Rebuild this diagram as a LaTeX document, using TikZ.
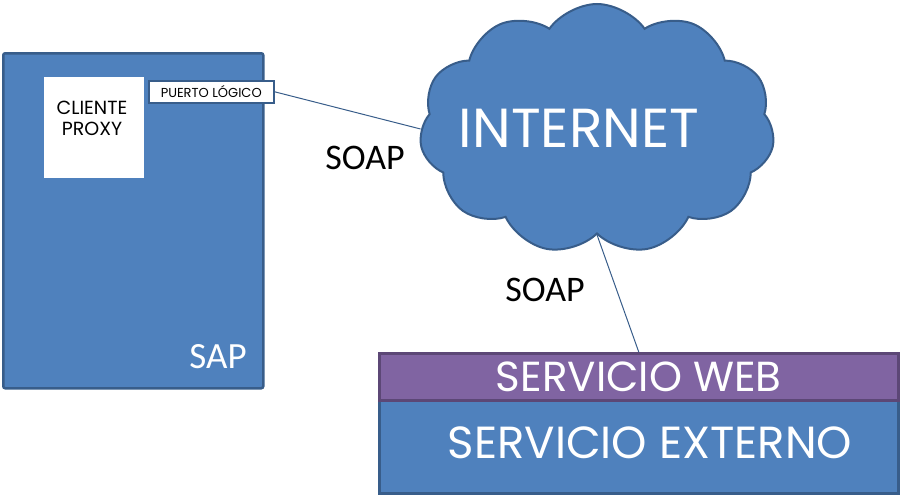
\documentclass[tikz,border=0pt]{standalone}
\usepackage{fontspec}
\setmainfont{Poppins}
\newfontfamily\calib{Carlito}
\usetikzlibrary{shapes.symbols,positioning}
\definecolor{sapblue}{HTML}{4F81BD}
\definecolor{sapedge}{HTML}{385D8A}
\definecolor{webviolet}{HTML}{8064A2}
\definecolor{webedge}{HTML}{5C4776}

\begin{document}
\begin{tikzpicture}[x=1pt,y=-1pt,
panel/.style={draw=sapedge,fill=sapblue,line width=2.5pt,inner sep=0pt,anchor=north west},
whitebox/.style={fill=white,inner sep=0pt,anchor=north west},
link/.style={draw=sapedge,line width=1pt},
tag/.style={font=\calib\fontsize{36}{40}\selectfont,text=black}]
\useasboundingbox (0,0) rectangle (900,501);
% SAP system with the proxy
\node[panel,rounded corners=2pt,minimum width=260pt,minimum height=335pt] (sap) at (2,52) {};
\node[text=white,font=\calib\fontsize{37}{40}\selectfont] (saplbl) at (218,357) {SAP};
\node[whitebox,minimum width=100pt,minimum height=101pt] (proxy) at (44,77) {};
\node[align=center,font=\fontsize{19}{21}\selectfont] (proxylbl) at (92,118) {CLIENTE\\PROXY};
\node[whitebox,draw=sapedge,line width=1.5pt,minimum width=125pt,minimum height=22pt,
  font=\fontsize{13}{14}\selectfont] (port) at (148,80) {PUERTO LÓGICO};
% internet
\node[cloud,draw=sapedge,fill=sapblue,line width=2pt,cloud puffs=11,cloud puff arc=110,
  aspect=1.4,minimum width=355pt,minimum height=250pt,inner sep=0pt] (cloud) at (597,129) {};
\node[text=white,font=\fontsize{55}{60}\selectfont] (netlbl) at (579,128) {INTERNET};
% external service
\node[panel,minimum width=519pt,minimum height=93pt] (ext) at (378,399) {};
\node[text=white,font=\fontsize{45}{50}\selectfont] (extlbl) at (650,443) {SERVICIO EXTERNO};
\node[panel,draw=webedge,fill=webviolet,minimum width=519pt,minimum height=47pt,
  text=white,font=\fontsize{42}{46}\selectfont] (web) at (378,352) {SERVICIO WEB};
% links
\draw[link] (port.east) -- (cloud.west);
\draw[link] (cloud.south) -- (web.north);
\node[tag] (soap1) at (365,158) {SOAP};
\node[tag] (soap2) at (545,290) {SOAP};
\end{tikzpicture}
\end{document}
